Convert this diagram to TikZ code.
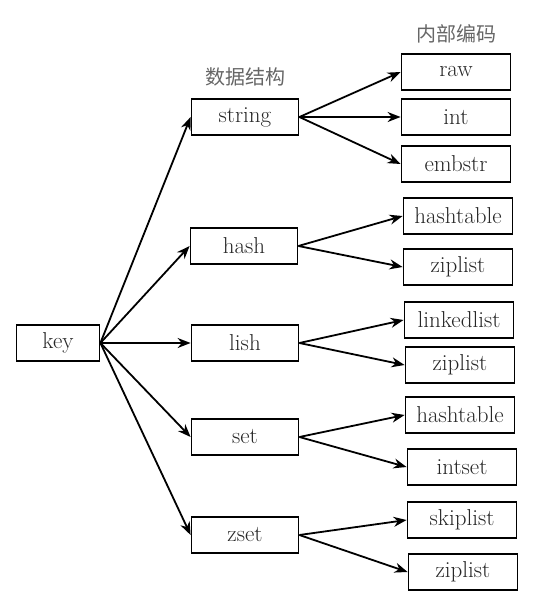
\documentclass[tikz,border=0pt]{standalone}
\usepackage{fontspec}
\newfontfamily\cjk{Noto Sans CJK SC}
\usetikzlibrary{arrows.meta}
\begin{document}
\begin{tikzpicture}[x=1pt,y=-1pt,
  box/.style={draw=black,line width=1.8pt,minimum height=36pt,inner sep=0pt,
    font=\rmfamily\fontsize{23}{26}\selectfont\addfontfeatures{FakeBold=0.5}, text=black!85},
  midbox/.style={box,minimum width=107pt},
  rbox/.style={box,minimum width=109pt},
  keybox/.style={box,minimum width=83pt},
  arr/.style={line width=1.8pt,-{Stealth[length=13pt,width=10pt]}},
  head/.style={font=\cjk\fontsize{20}{22}\selectfont,text=black!60}]
\useasboundingbox (0,0) rectangle (550,608);
\node[keybox] (key) at (58,343) {key};
\node[midbox] (string) at (245,117) {string};
\node[midbox] (hash) at (244,246) {hash};
\node[midbox] (lish) at (245,343) {lish};
\node[midbox] (set) at (245,437) {set};
\node[midbox] (zset) at (245,535) {zset};
\node[head] (h1) at (245,77) {数据结构};
\node[head] (h2) at (456,34) {内部编码};
\node[rbox] (raw) at (456,72) {raw};
\node[rbox] (int) at (456,117) {int};
\node[rbox] (embstr) at (456,164) {embstr};
\node[rbox] (ht1) at (458,216) {hashtable};
\node[rbox] (zl1) at (458,267) {ziplist};
\node[rbox] (ll) at (459,320) {linkedlist};
\node[rbox] (zl2) at (460,365) {ziplist};
\node[rbox] (ht2) at (460,415) {hashtable};
\node[rbox] (is) at (462,467) {intset};
\node[rbox] (sl) at (462,520) {skiplist};
\node[rbox] (zl3) at (463,572) {ziplist};
\foreach \t in {string,hash,lish,set,zset}
  \draw[arr] (key.east) -- (\t.west);
\foreach \t in {raw,int,embstr}
  \draw[arr] (string.east) -- (\t.west);
\foreach \t in {ht1,zl1}
  \draw[arr] (hash.east) -- (\t.west);
\foreach \t in {ll,zl2}
  \draw[arr] (lish.east) -- (\t.west);
\foreach \t in {ht2,is}
  \draw[arr] (set.east) -- (\t.west);
\foreach \t in {sl,zl3}
  \draw[arr] (zset.east) -- (\t.west);
\end{tikzpicture}
\end{document}
